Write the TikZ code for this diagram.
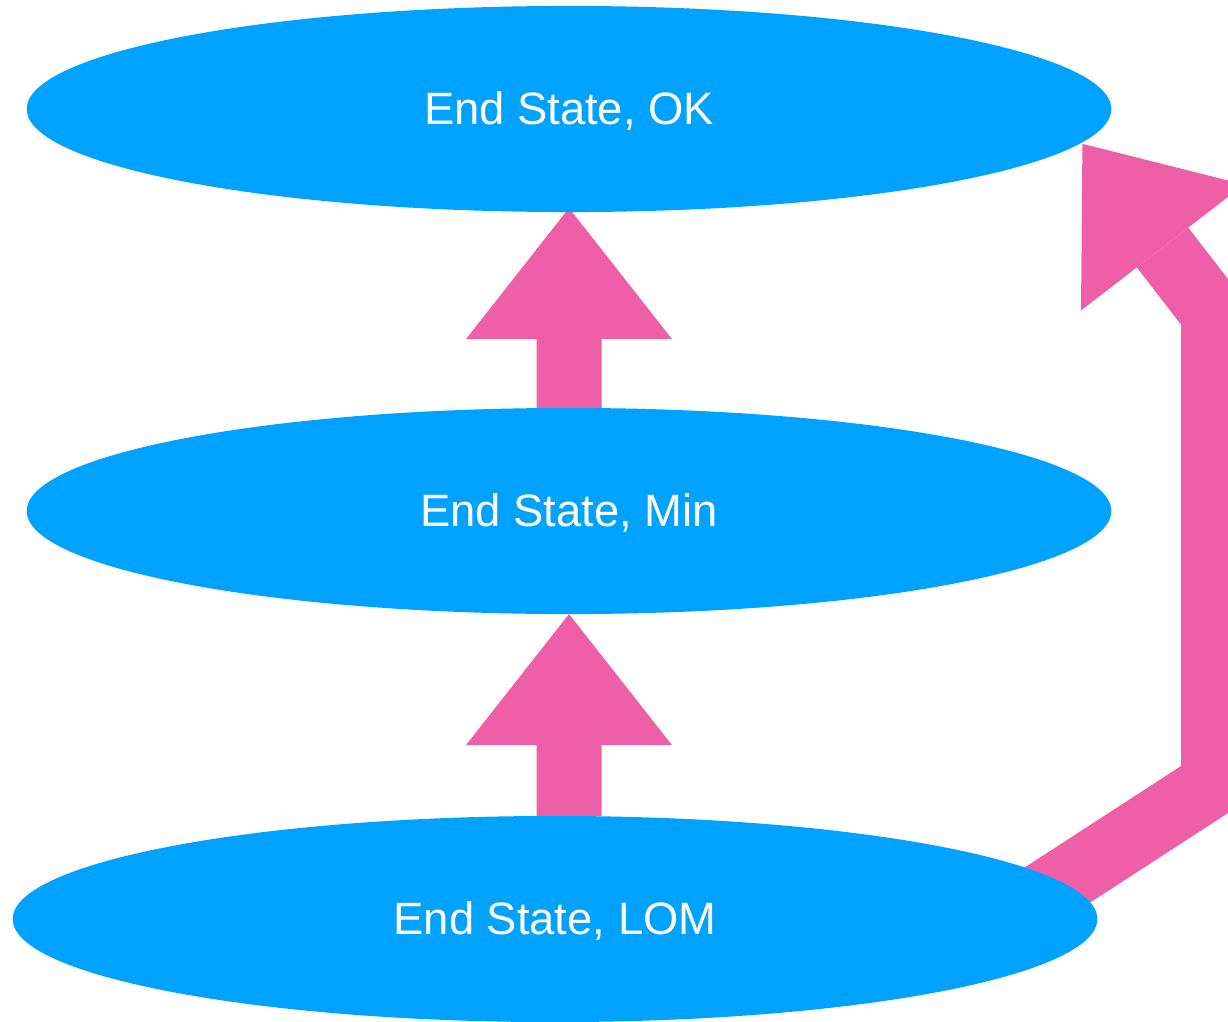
\documentclass[tikz,border=0pt]{standalone}
\usepackage{fontspec}
\setmainfont{Liberation Sans}
\usetikzlibrary{shapes.geometric,calc,backgrounds}
\definecolor{ellblue}{RGB}{0,162,255}
\definecolor{arrpink}{RGB}{239,95,167}
\newcommand{\lowtext}[1]{\raisebox{-0.6pt}[\height][\depth]{#1}}
\begin{document}
\begin{tikzpicture}[x=0.01cm,y=-0.01cm,
  state/.style={ellipse, fill=ellblue, draw=none, minimum width=10.84cm,
    minimum height=2.06cm, inner sep=0pt, outer sep=0pt, text=white,
    font=\fontsize{12.9pt}{15pt}\selectfont},
  pinkfill/.style={fill=arrpink, draw=none},
  pinkshaft/.style={draw=arrpink, line width=0.65cm, line join=miter, line cap=butt}]
\useasboundingbox (0,0) rectangle (1228,1021);
\node[state] (ok)  at (569,109) {\lowtext{End State, OK}};
\node[state] (min) at (569,511) {\lowtext{End State, Min}};
\node[state] (lom) at (555,919) {\lowtext{End State, LOM}};
% right-hand bent connector geometry
\coordinate (k1) at (1213.5,783.7);
\coordinate (k2) at (1213.5,313.5);
\coordinate (hb) at (1162.5,247.5);
\coordinate (s)  at ($(k1)+(-218.4,141.7)$);
\coordinate (tip) at (1082.4,143.8);
\coordinate (okt) at ($(ok.south)+(0,-4)$);
\begin{scope}[on background layer]
  % Min -> OK
  \fill[pinkfill] ($(min.north)+(-32.5,0)$) -- ($(okt)+(-32.5,131)$)
     -- ($(okt)+(-103,131)$) -- (okt) -- ($(okt)+(103,131)$)
     -- ($(okt)+(32.5,131)$) -- ($(min.north)+(32.5,0)$) -- cycle;
  % LOM -> Min
  \fill[pinkfill] ($(min.south |- lom.north)+(-32.5,0)$) -- ($(min.south)+(-32.5,131)$)
     -- ($(min.south)+(-103,131)$) -- (min.south) -- ($(min.south)+(103,131)$)
     -- ($(min.south)+(32.5,131)$) -- ($(min.south |- lom.north)+(32.5,0)$) -- cycle;
  % LOM -> OK (bent)
  \draw[pinkshaft] (s) -- (k1) -- (k2) -- (hb);
  \fill[pinkfill] (tip) -- ($(hb)+(81.5,-63)$) -- ($(hb)+(-81.5,63)$) -- cycle;
\end{scope}
\end{tikzpicture}
\end{document}
